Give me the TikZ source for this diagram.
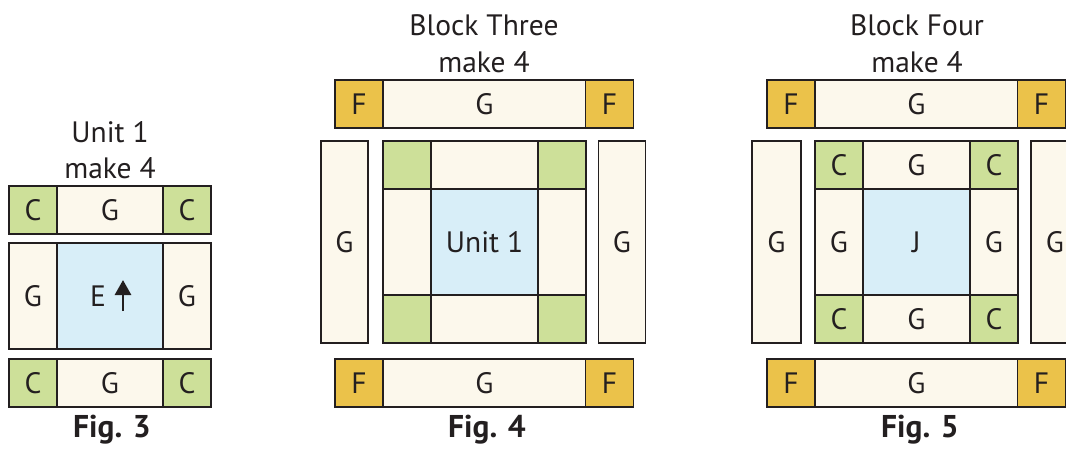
\documentclass[tikz,border=0pt]{standalone}
\usepackage{fontspec}
\setmainfont{PT Sans}
\usetikzlibrary{positioning,arrows.meta}
\definecolor{creamfill}{RGB}{252,248,236}
\definecolor{leaffill}{RGB}{205,224,153}
\definecolor{skyfill}{RGB}{216,238,248}
\definecolor{goldfill}{RGB}{235,194,74}
\definecolor{seam}{RGB}{35,31,32}
\tikzset{
    patch/.style = {
        draw=seam,
        shape=rectangle,
        line width=1.3pt,
        inner sep=0pt,
        text=seam,
        font=\fontsize{29.5}{33}\selectfont
    },
    cream/.style = {patch, fill=creamfill},
    leaf/.style = {patch, fill=leaffill},
    sky/.style = {patch, fill=skyfill},
    gold/.style = {patch, fill=goldfill},
    sq/.style = {minimum width=48pt, minimum height=48pt},
    title/.style = {anchor=base, text=seam, font=\fontsize{29.5}{33}\selectfont},
    figlabel/.style = {anchor=base, text=seam, font=\fontsize{31.5}{34}\selectfont\bfseries},
}
\begin{document}
\begin{tikzpicture}[x=1pt, y=-1pt]
            \useasboundingbox (0,0) rectangle (1066,448);

            \node[title] (unittitle) at (110,142) {Unit 1};
            \node[title] (unitmake) at (110,178) {make 4};
            \node[leaf, sq] (c31) at (33,210) {C};
            \node[cream, minimum width=106pt, minimum height=48pt] (g31) at (110,210) {G};
            \node[leaf, sq] (c32) at (187,210) {C};
            \node[cream, minimum width=48pt, minimum height=106pt] (g32) at (33,296) {G};
            \node[sky, minimum width=106pt, minimum height=106pt] (e) at (110,296) {};
            \node[cream, minimum width=48pt, minimum height=106pt] (g33) at (187,296) {G};
            \node[leaf, sq] (c33) at (33,383) {C};
            \node[cream, minimum width=106pt, minimum height=48pt] (g34) at (110,383) {G};
            \node[leaf, sq] (c34) at (187,383) {C};
            \node[patch, draw=none] (etext) at (98,296) {E};
            \coordinate (grainfoot) at (123,311);
            \coordinate (graintip) at (123,280);
            \draw[seam, line width=2.8pt, -{Triangle[width=16pt, length=15pt]}] (grainfoot) -- (graintip);
            \node[figlabel] (fig3) at (112,437) {Fig. 3};

            \node[title] (threetitle) at (484,35) {Block Three};
            \node[title] (threemake) at (484,72) {make 4};
            \node[gold, sq] (f41) at (359,104) {F};
            \node[cream, minimum width=203pt, minimum height=48pt] (g41) at (484.5,104) {G};
            \node[gold, sq] (f42) at (609.5,104) {F};
            \node[cream, minimum width=47pt, minimum height=202pt] (g42) at (344.5,242) {G};
            \node[leaf, sq] (c41) at (407,165) {};
            \node[cream, minimum width=107pt, minimum height=48pt] (g43) at (484.5,165) {};
            \node[leaf, sq] (c42) at (562,165) {};
            \node[cream, minimum width=48pt, minimum height=106pt] (g44) at (407,242) {};
            \node[sky, minimum width=107pt, minimum height=106pt] (unit) at (484.5,242) {Unit 1};
            \node[cream, minimum width=48pt, minimum height=106pt] (g45) at (562,242) {};
            \node[leaf, sq] (c43) at (407,319) {};
            \node[cream, minimum width=107pt, minimum height=48pt] (g46) at (484.5,319) {};
            \node[leaf, sq] (c44) at (562,319) {};
            \node[cream, minimum width=47pt, minimum height=202pt] (g47) at (622,242) {G};
            \node[gold, sq] (f43) at (359,383) {F};
            \node[cream, minimum width=203pt, minimum height=48pt] (g48) at (484.5,383) {G};
            \node[gold, sq] (f44) at (609.5,383) {F};
            \node[figlabel] (fig4) at (487,437) {Fig. 4};

            \node[title] (fourtitle) at (917,35) {Block Four};
            \node[title] (fourmake) at (917,72) {make 4};
            \node[gold, sq] (f51) at (791,104) {F};
            \node[cream, minimum width=203pt, minimum height=48pt] (g51) at (916.5,104) {G};
            \node[gold, sq] (f52) at (1041.5,104) {F};
            \node[cream, minimum width=49pt, minimum height=202pt] (g52) at (776.5,242) {G};
            \node[leaf, sq] (c51) at (839,165) {C};
            \node[cream, minimum width=107pt, minimum height=48pt] (g53) at (916.5,165) {G};
            \node[leaf, sq] (c52) at (994,165) {C};
            \node[cream, minimum width=48pt, minimum height=106pt] (g54) at (839,242) {G};
            \node[sky, minimum width=107pt, minimum height=106pt] (j) at (916.5,242) {J};
            \node[cream, minimum width=48pt, minimum height=106pt] (g55) at (994,242) {G};
            \node[leaf, sq] (c53) at (839,319) {C};
            \node[cream, minimum width=107pt, minimum height=48pt] (g56) at (916.5,319) {G};
            \node[leaf, sq] (c54) at (994,319) {C};
            \node[cream, minimum width=48pt, minimum height=202pt] (g57) at (1055,242) {G};
            \node[gold, sq] (f53) at (791,383) {F};
            \node[cream, minimum width=203pt, minimum height=48pt] (g58) at (916.5,383) {G};
            \node[gold, sq] (f54) at (1041.5,383) {F};
            \node[figlabel] (fig5) at (920,437) {Fig. 5};
        \end{tikzpicture}
\end{document}
